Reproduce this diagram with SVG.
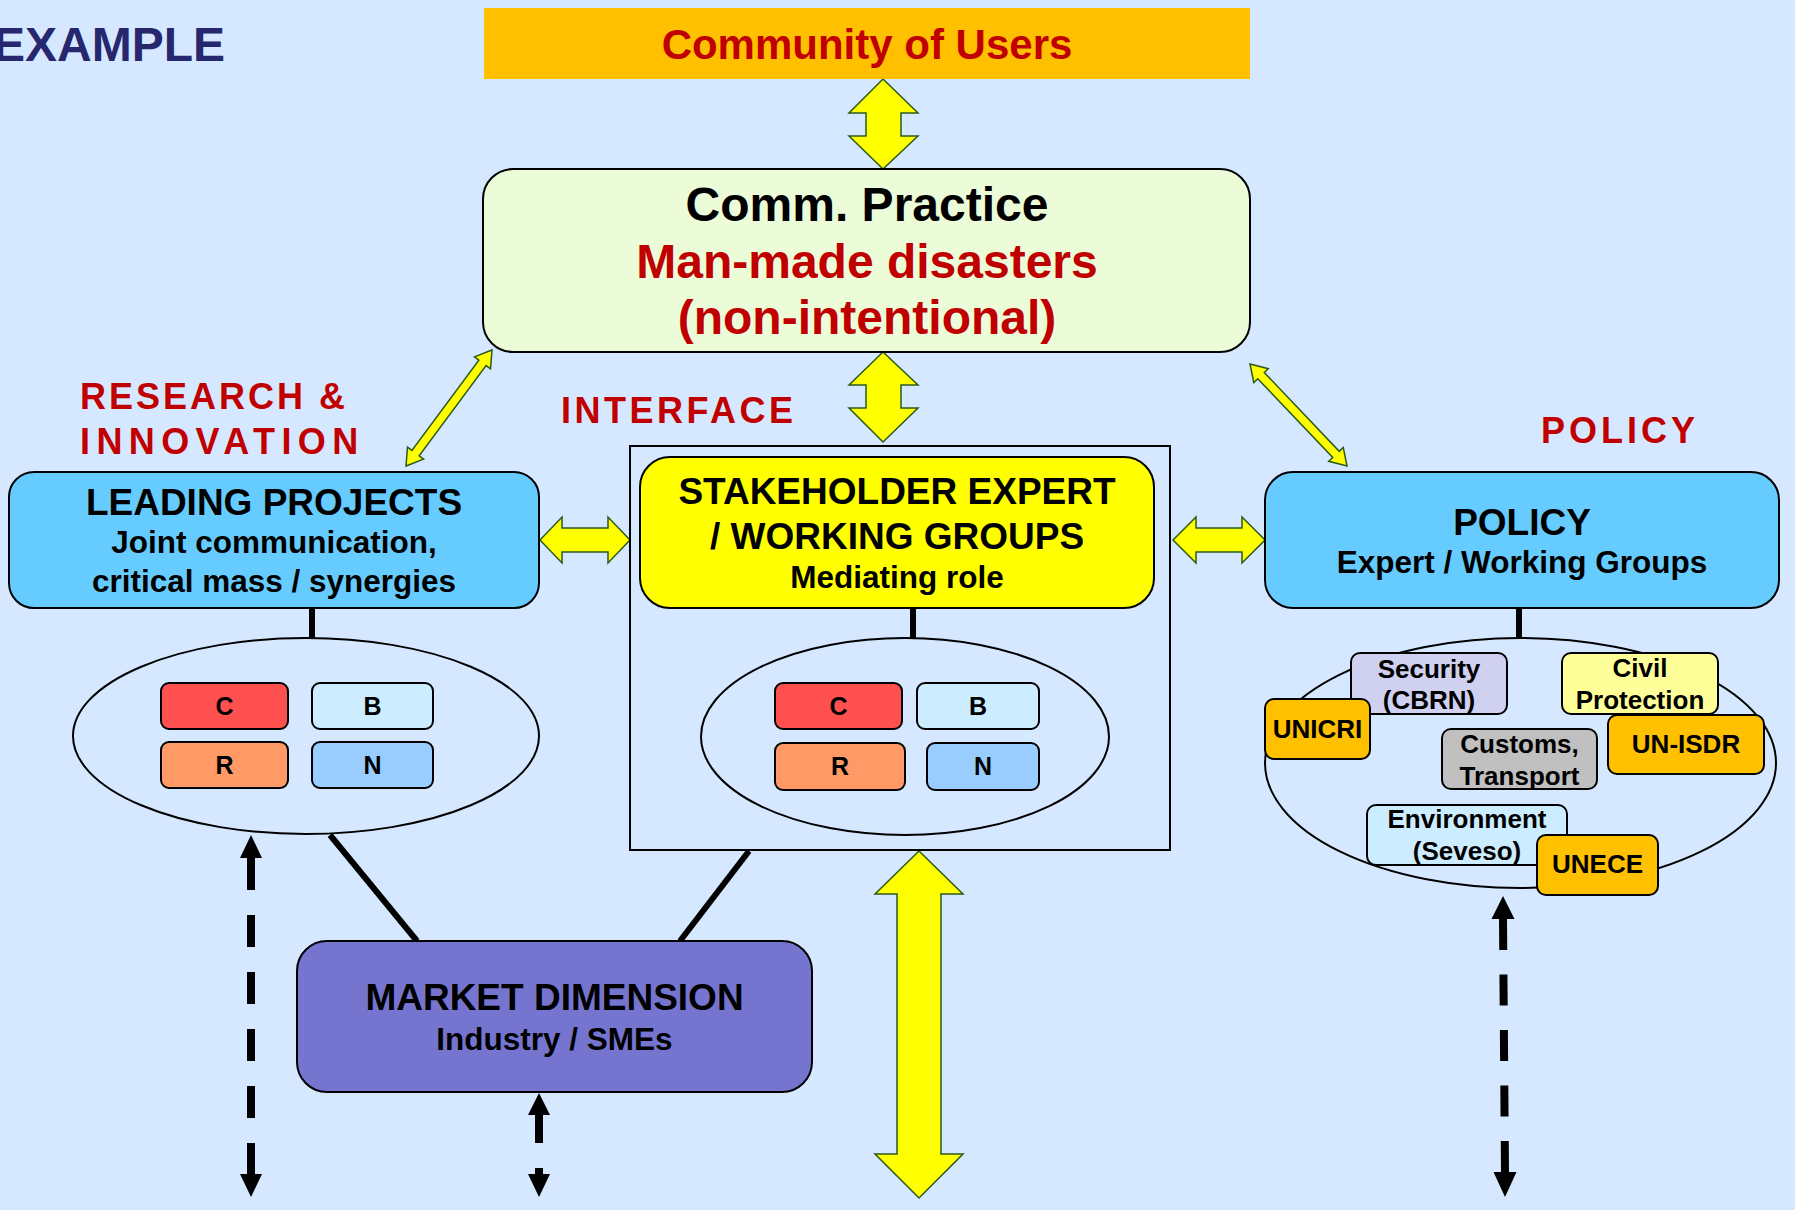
<svg xmlns="http://www.w3.org/2000/svg" width="1795" height="1210" viewBox="0 0 1795 1210">
<style>
text{font-family:"Liberation Sans",Arial,sans-serif;font-weight:bold;text-anchor:middle;fill:#000}
.red{fill:#C00000}
.lbl{fill:#C00000;text-anchor:start;font-size:36px}
.hdr{font-size:37px}
.sub{font-size:31.5px}
.big{font-size:48px}
.mini{font-size:25px}
.pol{font-size:26px}
.box{stroke:#000;stroke-width:2}
.yarr{fill:#FFFF00;stroke:#2A5A1A;stroke-width:1.5;stroke-linejoin:miter}
.stub{stroke:#000;stroke-width:6;fill:none}
.dash{stroke:#000;stroke-width:8;fill:none}
.head{fill:#000}
.ell{fill:none;stroke:#000;stroke-width:2}
</style>
<rect x="0" y="0" width="1795" height="1210" fill="#D6E8FF"/>

<text x="225" y="61" style="text-anchor:end;font-size:48px;fill:#27276F">EXAMPLE</text>
<text class="lbl" x="80" y="409" letter-spacing="3">RESEARCH &amp;</text>
<text class="lbl" x="80" y="454" letter-spacing="6.4">INNOVATION</text>
<text class="lbl" x="561" y="423" letter-spacing="3.5">INTERFACE</text>
<text class="lbl" x="1541" y="443" letter-spacing="4">POLICY</text>

<g id="connectors">
  <line class="stub" x1="312" y1="608" x2="312" y2="639"/>
  <line class="stub" x1="913" y1="608" x2="913" y2="639"/>
  <line class="stub" x1="1519" y1="608" x2="1519" y2="639"/>
  <line class="stub" x1="330" y1="835" x2="417" y2="941"/>
  <line class="stub" x1="749" y1="851" x2="680" y2="941"/>
  <polygon class="yarr" points="883,79 918,113 901,113 901,136 918,136 883,169 849,136 866,136 866,113 849,113"/>
  <polygon class="yarr" points="883,352 918,385 901,385 901,408 918,408 883,442 849,408 866,408 866,385 849,385"/>
  <polygon class="yarr" points="540,540 562,517 562,528 608,528 608,517 630,540 608,563 608,552 562,552 562,563"/>
  <polygon class="yarr" points="1173,540 1196,517 1196,528 1242,528 1242,517 1265,540 1242,563 1242,552 1196,552 1196,563"/>
  <polygon class="yarr" points="919,851 963,894 941,894 941,1154 963,1154 919,1198 875,1154 897,1154 897,894 875,894"/>
  <polygon class="yarr" transform="translate(406,466) rotate(-53.45)" points="0,0 16,-10 16,-4.5 128.4,-4.5 128.4,-10 144.4,0 128.4,10 128.4,4.5 16,4.5 16,10"/>
  <polygon class="yarr" transform="translate(1250,364) rotate(46.44)" points="0,0 16,-10 16,-4.5 124.8,-4.5 124.8,-10 140.8,0 124.8,10 124.8,4.5 16,4.5 16,10"/>
  <line class="dash" x1="251" y1="858" x2="251" y2="1175" stroke-dasharray="32 25"/>
  <polygon class="head" points="251,835 262,858 240,858"/>
  <polygon class="head" points="251,1197 262,1174 240,1174"/>
  <line class="dash" x1="539" y1="1115" x2="539" y2="1175" stroke-dasharray="28 25"/>
  <polygon class="head" points="539,1093 550,1115 528,1115"/>
  <polygon class="head" points="539,1197 550,1174 528,1174"/>
  <line class="dash" x1="1503" y1="919" x2="1505" y2="1172" stroke-dasharray="31 24.5"/>
  <polygon class="head" points="1503,896 1514.5,919 1491.5,919"/>
  <polygon class="head" points="1505,1197 1516.5,1172 1493.5,1172"/>
</g>

<g id="community">
  <rect x="484" y="8" width="766" height="71" fill="#FFC000"/>
  <text class="red" x="867" y="59" style="font-size:42px">Community of Users</text>
</g>

<g id="comm-practice">
  <rect class="box" x="483" y="169" width="767" height="183" rx="30" fill="#ECFCD8"/>
  <text class="big" x="867" y="221">Comm. Practice</text>
  <text class="big red" x="867" y="278">Man-made disasters</text>
  <text class="big red" x="867" y="334">(non-intentional)</text>
</g>

<g id="leading-projects">
  <rect class="box" x="9" y="472" width="530" height="136" rx="25" fill="#66CCFF"/>
  <text class="hdr" x="274" y="515">LEADING PROJECTS</text>
  <text class="sub" x="274" y="553">Joint communication,</text>
  <text class="sub" x="274" y="592">critical mass / synergies</text>
</g>

<g id="research-cluster">
  <ellipse class="ell" cx="306" cy="736" rx="233" ry="98"/>
  <rect class="box" x="161" y="683" width="127" height="46" rx="8" fill="#FF5050"/>
  <text class="mini" x="224.5" y="715">C</text>
  <rect class="box" x="312" y="683" width="121" height="46" rx="8" fill="#CCECFF"/>
  <text class="mini" x="372.5" y="715">B</text>
  <rect class="box" x="161" y="742" width="127" height="46" rx="8" fill="#FF9966"/>
  <text class="mini" x="224.5" y="774">R</text>
  <rect class="box" x="312" y="742" width="121" height="46" rx="8" fill="#99CCFF"/>
  <text class="mini" x="372.5" y="774">N</text>
</g>

<g id="stakeholder">
  <rect class="box" x="630" y="446" width="540" height="404" fill="none"/>
  <rect class="box" x="640" y="457" width="514" height="151" rx="30" fill="#FFFF00"/>
  <text class="hdr" x="897" y="504">STAKEHOLDER EXPERT</text>
  <text class="hdr" x="897" y="549">/ WORKING GROUPS</text>
  <text class="sub" x="897" y="588">Mediating role</text>
</g>

<g id="interface-cluster">
  <ellipse class="ell" cx="905" cy="736.5" rx="204" ry="98.5"/>
  <rect class="box" x="775" y="683" width="127" height="46" rx="8" fill="#FF5050"/>
  <text class="mini" x="838.5" y="715">C</text>
  <rect class="box" x="917" y="683" width="122" height="46" rx="8" fill="#CCECFF"/>
  <text class="mini" x="978" y="715">B</text>
  <rect class="box" x="775" y="743" width="130" height="47" rx="8" fill="#FF9966"/>
  <text class="mini" x="840" y="775">R</text>
  <rect class="box" x="927" y="743" width="112" height="47" rx="8" fill="#99CCFF"/>
  <text class="mini" x="983" y="775">N</text>
</g>

<g id="policy">
  <rect class="box" x="1265" y="472" width="514" height="136" rx="28" fill="#66CCFF"/>
  <text class="hdr" x="1522" y="535">POLICY</text>
  <text class="sub" x="1522" y="573">Expert / Working Groups</text>
</g>

<g id="policy-cluster">
  <ellipse class="ell" cx="1520.5" cy="763" rx="255.5" ry="125"/>
  <g id="security">
    <rect class="box" x="1351" y="653" width="156" height="61" rx="9" fill="#D0D0F0"/>
    <text class="pol" x="1429" y="678">Security</text>
    <text class="pol" x="1429" y="709">(CBRN)</text>
  </g>
  <g id="unicri">
    <rect class="box" x="1265" y="699" width="105" height="60" rx="9" fill="#FFC000"/>
    <text class="pol" x="1317.5" y="738">UNICRI</text>
  </g>
  <g id="civil-protection">
    <rect class="box" x="1562" y="653" width="156" height="61" rx="9" fill="#FFFF99"/>
    <text class="pol" x="1640" y="677">Civil</text>
    <text class="pol" x="1640" y="709">Protection</text>
  </g>
  <g id="un-isdr">
    <rect class="box" x="1608" y="715" width="156" height="59" rx="9" fill="#FFC000"/>
    <text class="pol" x="1686" y="753">UN-ISDR</text>
  </g>
  <g id="customs">
    <rect class="box" x="1442" y="729" width="155" height="60" rx="9" fill="#C0C0C0"/>
    <text class="pol" x="1519.5" y="753">Customs,</text>
    <text class="pol" x="1519.5" y="785">Transport</text>
  </g>
  <g id="environment">
    <rect class="box" x="1367" y="805" width="200" height="60" rx="9" fill="#CCECFF"/>
    <text class="pol" x="1467" y="828">Environment</text>
    <text class="pol" x="1467" y="860">(Seveso)</text>
  </g>
  <g id="unece">
    <rect class="box" x="1537" y="835" width="121" height="60" rx="9" fill="#FFC000"/>
    <text class="pol" x="1597.5" y="873">UNECE</text>
  </g>
</g>

<g id="market">
  <rect class="box" x="297" y="941" width="515" height="151" rx="30" fill="#7575D0"/>
  <text class="hdr" x="554.5" y="1010">MARKET DIMENSION</text>
  <text class="sub" x="554.5" y="1050">Industry / SMEs</text>
</g>
</svg>
